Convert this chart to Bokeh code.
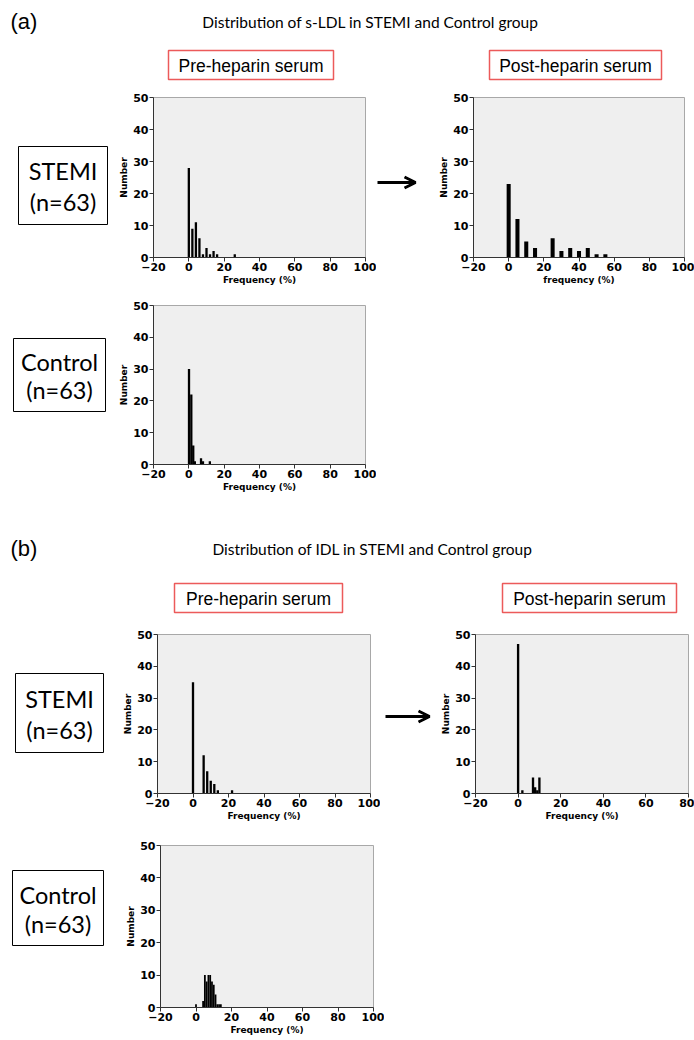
from bokeh.plotting import figure
from bokeh.layouts import column, row
from bokeh.models import Range1d, SingleIntervalTicker, Arrow, OpenHead, Spacer
from bokeh.core.properties import value
from bokeh.embed import file_html
from bokeh.resources import INLINE

# ---------------- data ----------------
# (a) s-LDL
a_pre_stemi_x = [0, 2, 4, 6, 8, 10, 12, 14, 16, 26]
a_pre_stemi_n = [28, 9, 11, 6, 1, 3, 1, 2, 1, 1]
a_post_stemi_x = [0, 5, 10, 15, 25, 30, 35, 40, 45, 50, 55]
a_post_stemi_n = [23, 12, 5, 3, 6, 2, 3, 2, 3, 1, 1]
a_pre_ctrl_x = [0.1, 1.4, 2.5, 3.4, 6.9, 8.0, 11.9]
a_pre_ctrl_n = [30, 22, 6, 1, 2, 1, 1]
# (b) IDL
b_pre_stemi_x = [0, 6, 8, 10, 12, 14, 22]
b_pre_stemi_n = [35, 12, 7, 4, 3, 1, 1]
b_post_stemi_x = [0, 2, 7, 8, 9, 10]
b_post_stemi_n = [47, 1, 5, 2, 1, 5]
b_pre_ctrl_x = [0, 4, 5, 6, 7, 8, 9, 10, 11, 12, 13, 14]
b_pre_ctrl_n = [1, 2, 10, 8, 10, 10, 8, 7, 4, 1, 1, 1]

title_a = "Distribution of s-LDL in STEMI and Control group"
title_b = "Distribution of IDL in STEMI and Control group"
pre_label = "Pre-heparin serum"
post_label = "Post-heparin serum"
group_stemi = ["STEMI", "(n=63)"]
group_ctrl = ["Control", "(n=63)"]
x_ticks_interval = 20
y_ticks_interval = 10

RED = "#ec5a5a"
TXT_FONT = "Lato"
BOX_FONT = "Liberation Sans"
AX_FONT = "DejaVu Sans"


def ann(x0, x1, y0, y1, mt=0, mb=0):
    # frame of an annotation panel is aligned with the histograms of its row,
    # so the ranges describe the frame region in page pixels
    p = figure(width=x1 - x0, height=y1 - y0,
               x_range=Range1d(x0, x1), y_range=Range1d(y1 - mb, y0 + mt),
               output_backend="svg", toolbar_location=None,
               x_axis_location=None, y_axis_location=None,
               min_border=0, min_border_left=0, min_border_right=0,
               min_border_top=mt, min_border_bottom=mb)
    p.xgrid.visible = False
    p.ygrid.visible = False
    p.outline_line_color = None
    p.background_fill_color = "white"
    p.border_fill_color = "white"
    return p


def put_text(p, x, y, t, font, size, align="center", color="black"):
    p.text(x=[x], y=[y], text=[t], text_font=value(font),
           text_font_size=value(size), text_align=align,
           text_baseline="middle", text_color=color)


def header(p, tag, tag_y, title, title_x, pre_box, post_box):
    put_text(p, 10, tag_y, tag, BOX_FONT, "22px", align="left")
    put_text(p, title_x, tag_y, title, TXT_FONT, "15.5px")
    for (l, r, t, b), lab in ((pre_box, pre_label), (post_box, post_label)):
        p.quad(left=[l], right=[r], top=[t], bottom=[b], fill_color="white",
               line_color=RED, line_width=1.5)
        put_text(p, (l + r) / 2, (t + b) / 2 + 1, lab, BOX_FONT, "17.5px")


def group_box(p, l, r, t, b, lines):
    p.quad(left=[l], right=[r], top=[t], bottom=[b], fill_color="white",
           line_color="black", line_width=1)
    h = (b - t)
    put_text(p, (l + r) / 2, t + h * 0.32, lines[0], TXT_FONT, "23.5px")
    put_text(p, (l + r) / 2, t + h * 0.71, lines[1], TXT_FONT, "23.5px")


def hist(x0, x1, y0, y1, ml, mr, mt, mb, xr, xs, ns, bw, xlabel):
    p = figure(width=x1 - x0, height=y1 - y0,
               x_range=Range1d(*xr), y_range=Range1d(0, 50),
               output_backend="svg", toolbar_location=None,
               min_border_left=ml, min_border_right=mr,
               min_border_top=mt, min_border_bottom=mb)
    p.vbar(x=xs, top=ns, width=bw, fill_color="black", line_color=None)
    p.background_fill_color = "#efefef"
    p.border_fill_color = "white"
    p.outline_line_color = "#a8a8a8"
    p.xgrid.visible = False
    p.ygrid.visible = False
    p.xaxis.ticker = SingleIntervalTicker(interval=x_ticks_interval)
    p.yaxis.ticker = SingleIntervalTicker(interval=y_ticks_interval)
    p.xaxis.axis_label = xlabel
    p.yaxis.axis_label = "Number"
    for ax in p.axis:
        ax.major_label_text_font = AX_FONT
        ax.major_label_text_font_style = "bold"
        ax.major_label_text_font_size = "11px"
        ax.major_label_text_color = "black"
        ax.axis_label_text_font = AX_FONT
        ax.axis_label_text_font_style = "bold"
        ax.axis_label_text_font_size = "9px"
        ax.axis_label_text_color = "black"
        ax.minor_tick_line_color = None
        ax.major_tick_in = 0
        ax.major_tick_out = 4
        ax.major_label_standoff = 1
        ax.axis_label_standoff = 1
        ax.axis_line_color = "#333333"
        ax.major_tick_line_color = "#333333"
    return p


# ---------------- (a) ----------------
hA = ann(0, 694, 0, 88)
header(hA, "(a)", 21, title_a, 370, (168, 333, 50, 79), (489, 661, 50, 79))

annA1 = ann(0, 115, 88, 296, 9, 39)
group_box(annA1, 18, 107, 146, 224, group_stemi)
h1 = hist(115, 376, 88, 296, 38, 11, 9, 39, (-20, 100),
          a_pre_stemi_x, a_pre_stemi_n, 1.3, "Frequency (%)")
arrA = ann(376, 432, 88, 296, 9, 39)
arrA.add_layout(Arrow(end=OpenHead(size=11, line_width=3, line_color="black"),
                      x_start=377, y_start=182, x_end=415, y_end=182,
                      line_width=3, line_color="black"))
h2 = hist(432, 694, 88, 296, 41, 10, 9, 39, (-20, 100),
          a_post_stemi_x, a_post_stemi_n, 2.3, "frequency (%)")

annA2 = ann(0, 115, 296, 502, 9, 38)
group_box(annA2, 13, 105, 338, 411, group_ctrl)
h3 = hist(115, 376, 296, 502, 38, 11, 9, 38, (-20, 100),
          a_pre_ctrl_x, a_pre_ctrl_n, 1.3, "Frequency (%)")

# ---------------- (b) ----------------
hB = ann(0, 694, 502, 622)
header(hB, "(b)", 548, title_b, 372, (174, 342, 583, 612), (502, 676, 583, 612))

annB1 = ann(0, 119, 622, 830, 12, 37)
group_box(annB1, 15, 103, 673, 752, group_stemi)
h4 = hist(119, 380, 622, 830, 38, 10, 12, 37, (-20, 100),
          b_pre_stemi_x, b_pre_stemi_n, 1.3, "Frequency (%)")
arrB = ann(380, 434, 622, 830, 12, 37)
arrB.add_layout(Arrow(end=OpenHead(size=11, line_width=3, line_color="black"),
                      x_start=385, y_start=716, x_end=429, y_end=716,
                      line_width=3, line_color="black"))
h5 = hist(434, 694, 622, 830, 41, 6, 12, 37, (-20, 80),
          b_post_stemi_x, b_post_stemi_n, 1.1, "Frequency (%)")

annB2 = ann(0, 122, 830, 1040, 15, 33)
group_box(annB2, 12, 103, 870, 945, group_ctrl)
h6 = hist(122, 384, 830, 1040, 38, 11, 15, 33, (-20, 100),
          b_pre_ctrl_x, b_pre_ctrl_n, 1.0, "Frequency (%)")

layout = column(
    hA,
    row(annA1, h1, arrA, h2),
    row(annA2, h3, Spacer(width=318, height=206)),
    hB,
    row(annB1, h4, arrB, h5),
    row(annB2, h6, Spacer(width=310, height=210)),
)

open("out.html", "w").write(file_html(layout, INLINE))
